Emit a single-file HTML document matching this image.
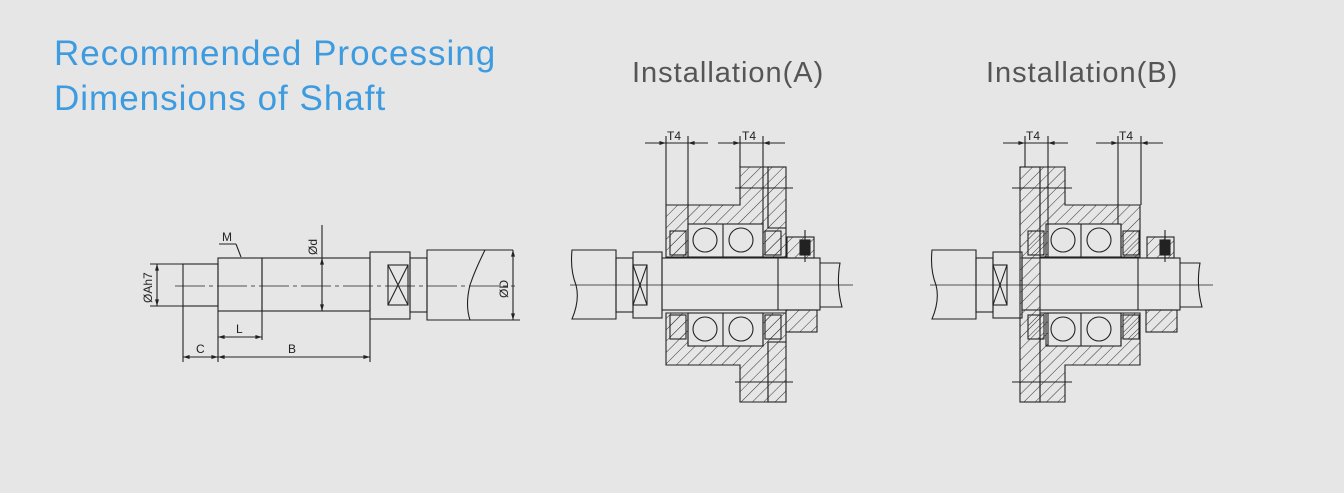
<!DOCTYPE html>
<html><head><meta charset="utf-8"><style>
html,body{margin:0;padding:0;background:#e6e6e7;}
body{width:1344px;height:493px;overflow:hidden;position:relative;font-family:"Liberation Sans",sans-serif;}
.t{position:absolute;color:#3d9be0;font-size:35px;line-height:45px;left:54px;letter-spacing:1px;}
.h{position:absolute;color:#555;font-size:29px;top:57px;letter-spacing:1px;}
svg{position:absolute;left:0;top:0;}
</style></head><body>
<div class="t" style="top:31px">Recommended Processing<br>Dimensions of Shaft</div>
<div class="h" style="left:632px">Installation(A)</div>
<div class="h" style="left:986px">Installation(B)</div>
<svg width="1344" height="493" viewBox="0 0 1344 493" font-family="Liberation Sans, sans-serif" fill="none" stroke="#222" stroke-width="1.1">
<defs>
<pattern id="hp" width="8" height="8" patternUnits="userSpaceOnUse" patternTransform="rotate(45)"><line x1="0" y1="0" x2="0" y2="8" stroke="#333" stroke-width="1"/></pattern>
<marker id="ar" viewBox="0 0 10 10" refX="10" refY="5" markerWidth="8" markerHeight="6" orient="auto-start-reverse"><path d="M0,2 L10,5 L0,8z" fill="#222" stroke="none"/></marker>
<g id="shaft">
<path d="M572,250 H616 V319 H572 Q580,300 576,285 Q570,270 572,250Z"/>
<rect x="616" y="258" width="17" height="54"/>
<rect x="633" y="252" width="29" height="66"/>
<rect x="633" y="265" width="14" height="40"/><path d="M633,265 L647,305 M647,265 L633,305"/>
<rect x="662" y="258" width="158" height="52"/>
<line x1="778" y1="258" x2="778" y2="310"/>
<path d="M820,263 H840 Q836,285 842,307 H820"/>
<line x1="570" y1="285" x2="853" y2="285" stroke-width="0.8"/>
</g>
<g id="brg">
<rect x="688" y="224" width="75" height="33"/>
<line x1="723" y1="224" x2="723" y2="257"/>
<circle cx="705" cy="240" r="12"/><circle cx="741" cy="240" r="12"/>
<rect x="670" y="231" width="16" height="24" fill="url(#hp)"/>
<rect x="765" y="231" width="16" height="24" fill="url(#hp)"/>
<rect x="688" y="313" width="75" height="33"/>
<line x1="723" y1="313" x2="723" y2="346"/>
<circle cx="705" cy="329" r="12"/><circle cx="741" cy="329" r="12"/>
<rect x="670" y="315" width="16" height="24" fill="url(#hp)"/>
<rect x="765" y="315" width="16" height="24" fill="url(#hp)"/>
</g>
</defs>

<g>
<line x1="175" y1="286" x2="515" y2="286" stroke-dasharray="30,4,4,4" stroke-width="0.8"/>
<rect x="183" y="264" width="35" height="42"/>
<rect x="218" y="258" width="44" height="53"/>
<rect x="262" y="258" width="108" height="53"/>
<rect x="370" y="252" width="40" height="67"/>
<rect x="388" y="265" width="20" height="40"/><path d="M388,265 L408,305 M408,265 L388,305"/>
<rect x="410" y="258" width="17" height="54"/>
<path d="M427,250 H485 Q475,270 470,285 Q465,305 470,320 H427Z"/>
<line x1="463" y1="250" x2="513" y2="250"/><line x1="470" y1="320" x2="520" y2="320"/>
<line x1="513" y1="250" x2="513" y2="320" marker-start="url(#ar)" marker-end="url(#ar)"/>
<text transform="translate(508,298) rotate(-90)" font-size="12" fill="#222" stroke="none">ØD</text>
<line x1="322" y1="225" x2="322" y2="311"/><line x1="322" y1="262" x2="322" y2="258" marker-end="url(#ar)"/><line x1="322" y1="300" x2="322" y2="311" marker-end="url(#ar)"/>
<text transform="translate(317,255) rotate(-90)" font-size="12" fill="#222" stroke="none">Ød</text>
<line x1="150" y1="264" x2="183" y2="264"/><line x1="150" y1="306" x2="183" y2="306"/>
<line x1="157" y1="264" x2="157" y2="306" marker-start="url(#ar)" marker-end="url(#ar)"/>
<text transform="translate(152,303) rotate(-90)" font-size="12" fill="#222" stroke="none">ØAh7</text>
<text x="222" y="241" font-size="12" fill="#222" stroke="none">M</text>
<line x1="219" y1="244" x2="236" y2="244"/><line x1="236" y1="244" x2="241" y2="257"/>
<line x1="183" y1="306" x2="183" y2="362"/><line x1="218" y1="311" x2="218" y2="362"/><line x1="262" y1="311" x2="262" y2="340"/><line x1="370" y1="319" x2="370" y2="362"/>
<line x1="218" y1="337" x2="262" y2="337" marker-start="url(#ar)" marker-end="url(#ar)"/>
<text x="236" y="333" font-size="12" fill="#222" stroke="none">L</text>
<line x1="183" y1="357" x2="218" y2="357" marker-start="url(#ar)" marker-end="url(#ar)"/>
<line x1="218" y1="357" x2="370" y2="357" marker-start="url(#ar)" marker-end="url(#ar)"/>
<text x="196" y="353" font-size="12" fill="#222" stroke="none">C</text>
<text x="288" y="353" font-size="12" fill="#222" stroke="none">B</text>
</g>

<g>
<path d="M666,205 H740 V167 H768 V228 H786 V257 H763 V224 H688 V257 H666Z" fill="url(#hp)"/>
<rect x="768" y="167" width="18" height="61" fill="url(#hp)"/>
<path d="M666,313 H688 V346 H763 V313 H786 V342 H768 V402 H740 V365 H666Z" fill="url(#hp)"/>
<rect x="768" y="342" width="18" height="60" fill="url(#hp)"/>
<use href="#brg"/>
<use href="#shaft"/>
<rect x="787" y="237" width="27" height="21" fill="url(#hp)"/><rect x="800" y="240" width="10" height="15" fill="#222"/>
<line x1="805" y1="230" x2="805" y2="262"/>
<rect x="786" y="310" width="31" height="22" fill="url(#hp)"/>
<line x1="735" y1="188" x2="793" y2="188"/><line x1="735" y1="382" x2="793" y2="382"/>
<line x1="666" y1="136" x2="666" y2="205"/><line x1="688" y1="136" x2="688" y2="224"/>
<line x1="740" y1="136" x2="740" y2="167"/><line x1="763" y1="136" x2="763" y2="224"/>
<line x1="645" y1="143" x2="666" y2="143" marker-end="url(#ar)"/><line x1="708" y1="143" x2="688" y2="143" marker-end="url(#ar)"/><line x1="666" y1="143" x2="688" y2="143"/>
<line x1="718" y1="143" x2="740" y2="143" marker-end="url(#ar)"/><line x1="785" y1="143" x2="763" y2="143" marker-end="url(#ar)"/><line x1="740" y1="143" x2="763" y2="143"/>
<text x="667" y="140" font-size="12" fill="#222" stroke="none">T4</text>
<text x="742" y="140" font-size="12" fill="#222" stroke="none">T4</text>
</g>

<g>
<rect x="1020" y="167" width="20" height="235" fill="url(#hp)"/>
<path d="M1040,167 H1065 V205 H1140 V257 H1121 V224 H1048 V257 H1040Z" fill="url(#hp)"/>
<path d="M1040,313 H1048 V346 H1121 V313 H1140 V365 H1065 V402 H1040Z" fill="url(#hp)"/>
<g transform="translate(360,0)"><use href="#shaft"/></g>
<g transform="translate(358,0)"><use href="#brg"/></g>
<rect x="1147" y="237" width="27" height="21" fill="url(#hp)"/><rect x="1160" y="240" width="10" height="15" fill="#222"/>
<line x1="1165" y1="230" x2="1165" y2="262"/>
<rect x="1146" y="310" width="31" height="22" fill="url(#hp)"/>
<line x1="1012" y1="188" x2="1072" y2="188"/><line x1="1012" y1="382" x2="1072" y2="382"/>
<line x1="1025" y1="136" x2="1025" y2="167"/><line x1="1048" y1="136" x2="1048" y2="224"/>
<line x1="1118" y1="136" x2="1118" y2="224"/><line x1="1141" y1="136" x2="1141" y2="205"/>
<line x1="1003" y1="143" x2="1025" y2="143" marker-end="url(#ar)"/><line x1="1068" y1="143" x2="1048" y2="143" marker-end="url(#ar)"/><line x1="1025" y1="143" x2="1048" y2="143"/>
<line x1="1096" y1="143" x2="1118" y2="143" marker-end="url(#ar)"/><line x1="1163" y1="143" x2="1141" y2="143" marker-end="url(#ar)"/><line x1="1118" y1="143" x2="1141" y2="143"/>
<text x="1026" y="140" font-size="12" fill="#222" stroke="none">T4</text>
<text x="1119" y="140" font-size="12" fill="#222" stroke="none">T4</text>
</g>
</svg>
</body></html>
